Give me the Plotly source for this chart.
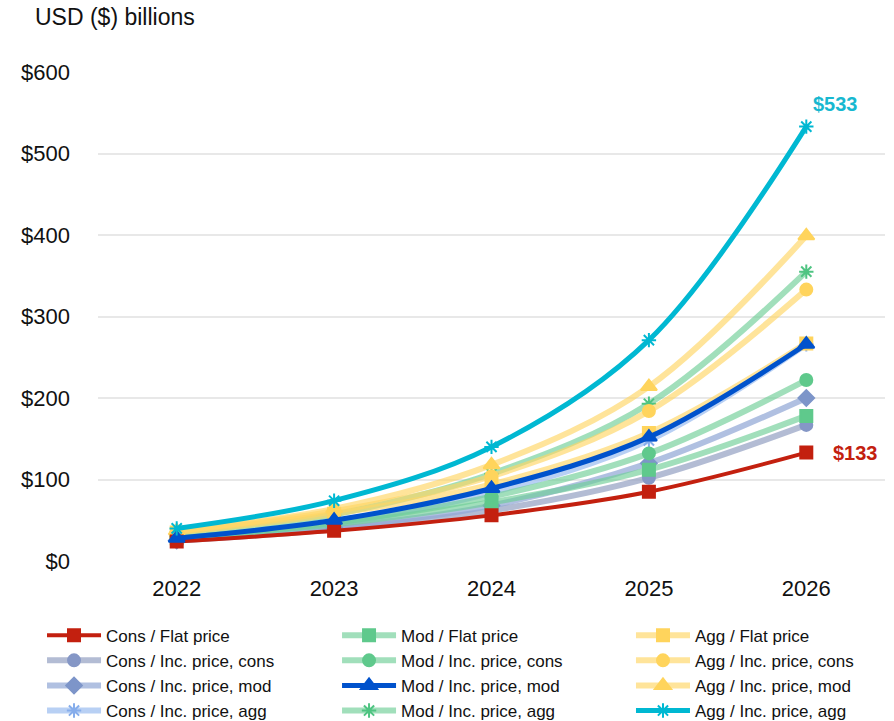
import plotly.graph_objects as go

# Market size projections by volume scenario / price scenario (USD billions)
years = ["2022", "2023", "2024", "2025", "2026"]

cons_flat = [24, 37, 56, 85, 133]
cons_inc_cons = [25, 39, 62, 102, 167]
cons_inc_mod = [25, 41, 68, 120, 200]
cons_inc_agg = [26, 46, 84, 148, 266]
mod_flat = [28, 45, 72, 112, 178]
mod_inc_cons = [28, 47, 79, 132, 222]
mod_inc_mod = [28, 50, 89, 152, 266]
mod_inc_agg = [30, 57, 107, 193, 355]
agg_flat = [35, 58, 94, 157, 267]
agg_inc_cons = [36, 61, 104, 184, 333]
agg_inc_mod = [37, 64, 118, 214, 399]
agg_inc_agg = [40, 74, 140, 271, 533]

y_ticks = [0, 100, 200, 300, 400, 500, 600]
y_tick_text = [f"${v}" for v in y_ticks]

FONT = "Liberation Sans, Arial, sans-serif"

# name, values, line colour, marker colour, marker symbol, line width, legend, rank
series = [
    ("Cons / Inc. price, cons", cons_inc_cons, "rgba(150,162,196,0.72)", "#8597C6", "circle", 6, "legend", 2),
    ("Cons / Inc. price, mod", cons_inc_mod, "rgba(145,168,214,0.72)", "#7D95C9", "diamond", 6, "legend", 3),
    ("Cons / Inc. price, agg", cons_inc_agg, "rgba(160,192,240,0.75)", "#86ADEB", "asterisk-open", 6, "legend", 4),
    ("Mod / Flat price", mod_flat, "rgba(110,206,150,0.65)", "#5FC98C", "square", 6, "legend2", 1),
    ("Mod / Inc. price, cons", mod_inc_cons, "rgba(110,206,150,0.65)", "#5FC98C", "circle", 6, "legend2", 2),
    ("Mod / Inc. price, agg", mod_inc_agg, "rgba(110,206,150,0.65)", "#4FC482", "asterisk-open", 6, "legend2", 4),
    ("Agg / Flat price", agg_flat, "rgba(255,214,100,0.65)", "#FFD45C", "square", 6, "legend3", 1),
    ("Agg / Inc. price, cons", agg_inc_cons, "rgba(255,214,100,0.65)", "#FFD45C", "circle", 6, "legend3", 2),
    ("Agg / Inc. price, mod", agg_inc_mod, "rgba(255,214,100,0.65)", "#FFD45C", "triangle-up", 6, "legend3", 3),
    ("Cons / Flat price", cons_flat, "#C3200F", "#C3200F", "square", 4, "legend", 1),
    ("Mod / Inc. price, mod", mod_inc_mod, "#0052CC", "#0052CC", "triangle-up", 5, "legend2", 3),
    ("Agg / Inc. price, agg", agg_inc_agg, "#00B8D2", "#00B8D2", "asterisk-open", 5, "legend3", 4),
]

fig = go.Figure()
for name, vals, lcol, mcol, sym, lw, leg, rank in series:
    size = 14 if sym == "triangle-up" else 12
    fig.add_trace(go.Scatter(
        x=years, y=vals, name=name, mode="lines+markers",
        line=dict(color=lcol, width=lw, shape="spline", smoothing=1),
        marker=dict(symbol=sym, size=size, color=mcol,
                    line=dict(color=mcol, width=2)),
        legend=leg, legendrank=rank,
    ))

last = len(years) - 1  # category index of the final year

# End-of-series value labels
fig.add_annotation(x=last, y=agg_inc_agg[-1], text=f"${agg_inc_agg[-1]:.0f}",
                   showarrow=False, xshift=29, yshift=23,
                   font=dict(family=FONT, size=20, color="#17B8D0", weight="bold"))
fig.add_annotation(x=last, y=cons_flat[-1], text=f"${cons_flat[-1]:.0f}",
                   showarrow=False, xshift=49, yshift=0,
                   font=dict(family=FONT, size=20, color="#C3200F", weight="bold"))

fig.add_annotation(xref="paper", yref="paper", x=-0.0826, y=1.1125,
                   xanchor="left", yanchor="middle", showarrow=False,
                   text="USD ($) billions",
                   font=dict(family=FONT, size=23, color="#111111"))

legend_common = dict(
    orientation="v", xref="container", yref="container",
    y=0.1433, xanchor="left", yanchor="top",
    font=dict(family=FONT, size=17, color="#111111"),
    traceorder="normal", itemwidth=54, tracegroupgap=0,
    bgcolor="rgba(0,0,0,0)",
)

fig.update_layout(
    width=894, height=721,
    margin=dict(l=98, r=9, t=72, b=160, autoexpand=False),
    paper_bgcolor="white", plot_bgcolor="white",
    font=dict(family=FONT, size=22, color="#111111"),
    showlegend=True,
    legend=dict(x=0.047, **legend_common),
    legend2=dict(x=0.377, **legend_common),
    legend3=dict(x=0.7058, **legend_common),
    xaxis=dict(type="category", range=[-0.5, last + 0.5],
               showgrid=False, showline=False, zeroline=False,
               ticks="", tickfont=dict(size=22), ticklabelstandoff=12),
    yaxis=dict(range=[0, 600], tickmode="array", tickvals=y_ticks, ticktext=y_tick_text,
               showgrid=True, gridcolor="#E8E8E8", gridwidth=1.5,
               zeroline=False, showline=False, ticks="",
               tickfont=dict(size=22), ticklabelstandoff=27),
)

fig.write_html("out.html")
